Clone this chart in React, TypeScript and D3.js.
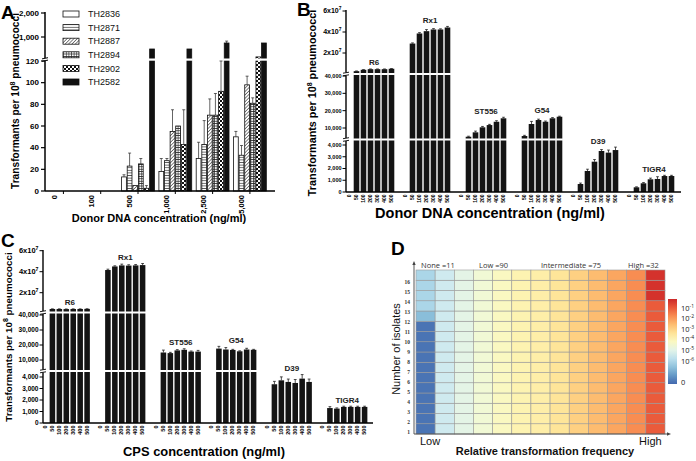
import React from 'react';
import * as d3 from 'd3';

// ---------- Panel A data ----------
const strainsA = ['TH2836', 'TH2871', 'TH2887', 'TH2894', 'TH2902', 'TH2582'];
const concA = ['0', '100', '500', '1,000', '2,500', '5,000'];
const th2836 = [0, 0, 13, 18, 30, 50];
const th2871 = [0, 0, 23, 28, 43, 33];
const th2887 = [0, 0, 5, 55, 70, 98];
const th2894 = [0, 0, 25, 60, 70, 81];
const th2902 = [0, 0, 2.5, 43, 92, 170];
const th2582 = [0, 0, 500, 500, 750, 750];
const errA2836 = [0, 0, 2, 12, 15, 5];
const errA2871 = [0, 0, 12, 2, 22, 9];
const errA2887 = [0, 0, 0, 20, 15, 8];
const errA2894 = [0, 0, 5, 0, 20, 5];
const errA2902 = [0, 0, 2.5, 32, 28, 0];
const errA2582 = [0, 0, 0, 0, 80, 0];
const yTicksALow = [0, 20, 40, 60, 80, 100, 120];
const yTicksAHigh = [1000, 2000];

// ---------- Panels B & C data ----------
const strainsBC = ['R6', 'Rx1', 'ST556', 'G54', 'D39', 'TIGR4'];
const concBC = ['0', '50', '100', '200', '300', '400', '500'];
const donorR6 = [0, 2.7e6, 4.0e6, 4.6e6, 4.6e6, 4.6e6, 5.0e6];
const donorRx1 = [0, 2.9e7, 3.86e7, 4.08e7, 4.24e7, 4.24e7, 4.43e7];
const donorST556 = [0, 4960, 7500, 10400, 11700, 13600, 15600];
const donorG54 = [0, 5370, 12300, 14600, 13600, 15600, 16500];
const donorD39 = [0, 680, 1790, 2580, 3490, 3350, 3570];
const donorTIGR4 = [0, 400, 740, 1080, 1110, 1360, 1360];
const donorErrR6 = [0, 2e5, 2e5, 2e5, 2e5, 2e5, 2e5];
const donorErrRx1 = [0, 6e5, 8e5, 1.5e6, 8e5, 6e5, 1e6];
const donorErrST556 = [0, 300, 700, 500, 400, 600, 600];
const donorErrG54 = [0, 400, 1500, 500, 400, 400, 300];
const donorErrD39 = [0, 80, 150, 180, 120, 220, 250];
const donorErrTIGR4 = [0, 40, 60, 100, 190, 60, 60];

const cpsR6 = [0, 4.5e6, 4.5e6, 4.4e6, 4.5e6, 4.5e6, 4.6e6];
const cpsRx1 = [0, 4.16e7, 4.5e7, 4.6e7, 4.58e7, 4.6e7, 4.63e7];
const cpsST556 = [0, 15000, 14600, 16400, 16800, 15600, 15600];
const cpsG54 = [0, 17600, 17000, 16700, 15800, 17000, 16800];
const cpsD39 = [0, 3370, 3710, 3570, 3480, 3860, 3570];
const cpsTIGR4 = [0, 1300, 1250, 1400, 1400, 1400, 1400];
const cpsErrR6 = [0, 1e5, 1e5, 1e5, 1e5, 1e5, 1e5];
const cpsErrRx1 = [0, 8e5, 6e5, 1.2e6, 8e5, 8e5, 1.5e6];
const cpsErrST556 = [0, 1600, 500, 500, 700, 400, 800];
const cpsErrG54 = [0, 1500, 1300, 400, 300, 800, 300];
const cpsErrD39 = [0, 250, 300, 250, 300, 350, 250];
const cpsErrTIGR4 = [0, 120, 60, 60, 60, 60, 60];

const yTicksBCBottom = [0, 1000, 2000, 3000, 4000];
const yTicksBCMid = [10000, 20000, 30000, 40000];
const yTicksBCTop = [2e7, 4e7, 6e7];

// ---------- Panel D data ----------
const heatRows = ['1', '2', '3', '4', '5', '6', '7', '8', '9', '10', '11', '12', '13', '14', '15', '16'];
const columnLevels = [0.9, 0.63, 0.58, 0.54, 0.5, 0.47, 0.45, 0.42, 0.37, 0.33, 0.29, 0.25, 0.17];
const firstColumnLevels = [0.9, 0.9, 0.9, 0.9, 0.9, 0.9, 0.9, 0.9, 0.9, 0.9, 0.9, 0.76, 0.7, 0.7, 0.7, 0.7];
const lastColumnLevels = [0.17, 0.17, 0.17, 0.17, 0.17, 0.17, 0.17, 0.17, 0.17, 0.17, 0.17, 0.17, 0.17, 0.1, 0.1, 0.1];
const groupHeaders = ['None =11', 'Low =90', 'Intermediate =75', 'High =32'];
const colorbarExps = ['-1', '-2', '-3', '-4', '-5', '-6'];

const FONT = 'Liberation Sans, Arial, sans-serif';

type Seg = { max: number; domain: [number, number]; range: [number, number] };
function brokenScale(segs: Seg[]) {
  const sc = segs.map((s) => ({ max: s.max, f: d3.scaleLinear().domain(s.domain).range(s.range) }));
  return (v: number) => {
    for (const s of sc) if (v <= s.max) return s.f(v);
    return sc[sc.length - 1].f(v);
  };
}

const fillsA = ['#fff', 'url(#pHoriz)', 'url(#pDiag)', 'url(#pGrid)', 'url(#pCheck)', '#111'];

function fmt(v: number) {
  return d3.format(',')(v);
}

function PanelA() {
  const y = brokenScale([
    { max: 125, domain: [0, 120], range: [191, 61] },
    { max: Infinity, domain: [1000, 2000], range: [37, 13] },
  ]);
  const x0 = 45;
  const step = 37.3;
  const xg = d3.scaleBand<string>().domain(concA).range([47, 47 + step * 6 - 0.12 * step]).paddingInner(0.12);
  const xs = d3.scaleBand<string>().domain(strainsA).range([0, xg.bandwidth()]).paddingInner(0.15);
  const vals = [th2836, th2871, th2887, th2894, th2902, th2582];
  const errs = [errA2836, errA2871, errA2887, errA2894, errA2902, errA2582];
  const base = y(0);
  const breakY = 59.5;
  return (
    <g>
      <text x={1} y={19} fontSize={19} fontWeight="bold" fontFamily={FONT}>A</text>
      {strainsA.map((s, si) =>
        concA.map((c, ci) => {
          const v = vals[si][ci];
          if (v <= 0) return null;
          const bx = (xg(c) as number) + (xs(s) as number);
          const w = xs.bandwidth();
          const top = y(v);
          const e = errs[si][ci];
          const cx = bx + w / 2;
          return (
            <g key={s + c}>
              {e > 0 && (
                <g stroke="#222" strokeWidth={0.7}>
                  <line x1={cx} x2={cx} y1={top} y2={y(v + e)} />
                  <line x1={cx - 1.5} x2={cx + 1.5} y1={y(v + e)} y2={y(v + e)} />
                </g>
              )}
              <rect x={bx} y={top} width={w} height={base - top} fill={fillsA[si]} stroke="#111" strokeWidth={0.8} />
              {v > 125 && <rect x={bx - 1} y={breakY - 1} width={w + 2} height={2.2} fill="#fff" />}
            </g>
          );
        })
      )}
      <line x1={x0} x2={x0} y1={base} y2={breakY + 1.5} stroke="#000" strokeWidth={1.5} />
      <line x1={x0} x2={x0} y1={breakY - 1.5} y2={12} stroke="#000" strokeWidth={1.5} />
      <line x1={x0 - 3} x2={x0 + 3} y1={breakY + 1.8} y2={breakY + 0.6} stroke="#000" strokeWidth={1} />
      <line x1={x0 - 3} x2={x0 + 3} y1={breakY - 0.6} y2={breakY - 1.8} stroke="#000" strokeWidth={1} />
      {[...yTicksALow, ...yTicksAHigh].map((t) => (
        <g key={t}>
          <line x1={x0 - 4} x2={x0} y1={y(t)} y2={y(t)} stroke="#000" strokeWidth={1.2} />
          <text x={x0 - 6} y={y(t)} dy="0.35em" textAnchor="end" fontSize={8} fontWeight="bold" fontFamily={FONT}>
            {fmt(t)}
          </text>
        </g>
      ))}
      <line x1={x0} x2={275} y1={base} y2={base} stroke="#000" strokeWidth={1.5} />
      {concA.map((c) => {
        const cx = (xg(c) as number) + xg.bandwidth() / 2;
        return (
          <g key={c}>
            <line x1={cx} x2={cx} y1={base} y2={base + 3} stroke="#000" strokeWidth={1} />
            <text
              transform={`translate(${cx - 9},${base + 4}) rotate(-90)`}
              dy="0.35em"
              textAnchor="end"
              fontSize={7.5}
              fontWeight="bold"
              fontFamily={FONT}
            >
              {c}
            </text>
          </g>
        );
      })}
      <text x={159} y={222} textAnchor="middle" fontSize={11} fontWeight="bold" fontFamily={FONT}>
        Donor DNA concentration (ng/ml)
      </text>
      <text transform="translate(19,101) rotate(-90)" textAnchor="middle" fontSize={10.2} fontWeight="bold" fontFamily={FONT}>
        Transformants per 10<tspan dy={-4} fontSize={7}>8</tspan><tspan dy={4}> pneumococci</tspan>
      </text>
      {strainsA.map((s, i) => {
        const cy = 14 + i * 13.6;
        return (
          <g key={s}>
            <rect x={63} y={cy - 3} width={16} height={6} fill={fillsA[i]} stroke="#111" strokeWidth={0.8} />
            <text x={88} y={cy} dy="0.35em" fontSize={9} fontFamily={FONT} fill="#111">
              {s}
            </text>
          </g>
        );
      })}
    </g>
  );
}

type BCProps = {
  letter: string;
  letterPos: [number, number];
  x0: number;
  xEnd: number;
  groupStart: number;
  groupStep: number;
  segs: Seg[];
  breaks: [number, number];
  topY: number;
  values: number[][];
  errors: number[][];
  xTitle: string;
  xTitlePos: [number, number];
  xTitleSize: number;
  yTitlePos: [number, number];
  yTitleSize: number;
  tickFont: number;
  expFont: number;
  xTickFont: number;
};

function PanelBC(p: BCProps) {
  const y = brokenScale(p.segs);
  const base = y(0);
  const xg = d3
    .scaleBand<string>()
    .domain(strainsBC)
    .range([p.groupStart, p.groupStart + p.groupStep * (6 - 0.125)])
    .paddingInner(0.125);
  const xs = d3.scaleBand<string>().domain(concBC).range([0, xg.bandwidth()]).paddingInner(0.2).paddingOuter(0.1);
  const [b1, b2] = p.breaks;
  return (
    <g>
      <text x={p.letterPos[0]} y={p.letterPos[1]} fontSize={19} fontWeight="bold" fontFamily={FONT}>
        {p.letter}
      </text>
      {strainsBC.map((s, si) => {
        let minTop = Infinity;
        const bars = concBC.map((c, ci) => {
          const v = p.values[si][ci];
          if (v <= 0) return null;
          const bx = (xg(s) as number) + (xs(c) as number);
          const w = xs.bandwidth();
          const top = y(v);
          const e = p.errors[si][ci];
          const et = y(v + e);
          minTop = Math.min(minTop, et);
          const cx = bx + w / 2;
          return (
            <g key={c}>
              <line x1={cx} x2={cx} y1={top} y2={et} stroke="#222" strokeWidth={0.8} />
              <line x1={cx - 1.4} x2={cx + 1.4} y1={et} y2={et} stroke="#222" strokeWidth={0.8} />
              <rect x={bx} y={top} width={w} height={base - top} fill="#141414" />
              {[b1, b2]
                .filter((b) => top < b - 1)
                .map((b) => (
                  <rect key={b} x={bx - 0.6} y={b - 1} width={w + 1.2} height={2} fill="#fff" />
                ))}
            </g>
          );
        });
        const gx0 = (xg(s) as number) + (xs(concBC[1]) as number);
        const gx1 = (xg(s) as number) + (xs(concBC[6]) as number) + xs.bandwidth();
        return (
          <g key={s}>
            {bars}
            <text x={(gx0 + gx1) / 2} y={minTop - 3.5} textAnchor="middle" fontSize={8} fontWeight="bold" fontFamily={FONT} fill="#222">
              {s}
            </text>
          </g>
        );
      })}
      <line x1={p.x0} x2={p.x0} y1={base} y2={b1 + 1.5} stroke="#000" strokeWidth={1.4} />
      <line x1={p.x0} x2={p.x0} y1={b1 - 1.5} y2={b2 + 1.5} stroke="#000" strokeWidth={1.4} />
      <line x1={p.x0} x2={p.x0} y1={b2 - 1.5} y2={p.topY} stroke="#000" strokeWidth={1.4} />
      {[b1, b2].map((b) => (
        <g key={b} stroke="#000" strokeWidth={0.9}>
          <line x1={p.x0 - 3} x2={p.x0 + 3} y1={b + 1.8} y2={b + 0.8} />
          <line x1={p.x0 - 3} x2={p.x0 + 3} y1={b - 0.8} y2={b - 1.8} />
        </g>
      ))}
      {[...yTicksBCBottom, ...yTicksBCMid].map((t) => (
        <g key={t}>
          <line x1={p.x0 - 3.5} x2={p.x0} y1={y(t)} y2={y(t)} stroke="#000" strokeWidth={1} />
          <text x={p.x0 - 4.5} y={y(t)} dy="0.35em" textAnchor="end" fontSize={p.tickFont} fontWeight="bold" fontFamily={FONT}>
            {fmt(t)}
          </text>
        </g>
      ))}
      {yTicksBCTop.map((t) => (
        <g key={t}>
          <line x1={p.x0 - 3.5} x2={p.x0} y1={y(t)} y2={y(t)} stroke="#000" strokeWidth={1} />
          <text x={p.x0 - 4.5} y={y(t)} dy="0.35em" textAnchor="end" fontSize={p.expFont} fontWeight="bold" fontFamily={FONT}>
            {t / 1e7}x10<tspan dy={-3.5} fontSize={p.expFont * 0.7}>7</tspan>
          </text>
        </g>
      ))}
      <line x1={p.x0} x2={p.xEnd} y1={base} y2={base} stroke="#000" strokeWidth={1.4} />
      {strainsBC.map((s) =>
        concBC.map((c) => {
          const cx = (xg(s) as number) + (xs(c) as number) + xs.bandwidth() / 2;
          return (
            <text
              key={s + c}
              transform={`translate(${cx - 0.5},${base + 2.5}) rotate(-90)`}
              dy="0.35em"
              textAnchor="end"
              fontSize={p.xTickFont}
              fontWeight="bold"
              fontFamily={FONT}
            >
              {c}
            </text>
          );
        })
      )}
      <text x={p.xTitlePos[0]} y={p.xTitlePos[1]} textAnchor="middle" fontSize={p.xTitleSize} fontWeight="bold" fontFamily={FONT}>
        {p.xTitle}
      </text>
      <text
        transform={`translate(${p.yTitlePos[0]},${p.yTitlePos[1]}) rotate(-90)`}
        textAnchor="middle"
        fontSize={p.yTitleSize}
        fontWeight="bold"
        fontFamily={FONT}
      >
        Transformants per 10<tspan dy={-4} fontSize={7}>8</tspan><tspan dy={4}> pneumococci</tspan>
      </text>
    </g>
  );
}

function PanelD() {
  const x = d3.scaleBand<number>().domain(d3.range(columnLevels.length)).range([416, 665]);
  const yb = d3.scaleBand<string>().domain([...heatRows].reverse()).range([270, 434]);
  const yl = d3.scalePoint<string>().domain([...heatRows].reverse()).range([282, 432]);
  const color = (t: number) => d3.interpolateRdYlBu(t);
  const level = (r: number, c: number) =>
    c === 0 ? firstColumnLevels[r] : c === columnLevels.length - 1 ? lastColumnLevels[r] : columnLevels[c];
  const cbY = d3.scaleLinear().domain([0, 1]).range([299, 384]);
  const stops = d3.range(0, 1.0001, 0.1);
  const headerX = [421, 479, 541, 628];
  return (
    <g>
      <defs>
        <linearGradient id="cbar" x1="0" x2="0" y1="0" y2="1">
          {stops.map((s) => (
            <stop key={s} offset={s} stopColor={color(0.08 + s * 0.84)} />
          ))}
        </linearGradient>
      </defs>
      <text x={391} y={255} fontSize={19} fontWeight="bold" fontFamily={FONT}>D</text>
      {heatRows.map((r, ri) =>
        columnLevels.map((_, ci) => (
          <rect
            key={r + '-' + ci}
            x={x(ci)}
            y={yb(r)}
            width={x.bandwidth()}
            height={yb.bandwidth()}
            fill={color(level(ri, ci))}
            stroke="#9a9a9a"
            strokeWidth={0.6}
          />
        ))
      )}
      {heatRows.map((r) => (
        <text key={r} x={410} y={yl(r)} dy="0.35em" textAnchor="end" fontSize={5.5} fontWeight="bold" fontFamily="Liberation Serif, serif" fill="#333">
          {r}
        </text>
      ))}
      <line x1={414} x2={414} y1={434} y2={264} stroke="#444" strokeWidth={0.9} />
      <path d="M414,261 L412.3,265 L415.7,265 Z" fill="#444" />
      <line x1={414} x2={668} y1={434} y2={434} stroke="#444" strokeWidth={0.9} />
      <path d="M671,434 L667,432.3 L667,435.7 Z" fill="#444" />
      {groupHeaders.map((h, i) => (
        <text key={h} x={headerX[i]} y={267.5} fontSize={7.5} fontFamily="Open Sans, sans-serif" fill="#333">
          {h}
        </text>
      ))}
      <text transform="translate(400,349) rotate(-90)" textAnchor="middle" fontSize={11} fontFamily={FONT} fill="#111">
        Number of isolates
      </text>
      <text x={420} y={445} fontSize={11} fontFamily={FONT} fill="#111">Low</text>
      <text x={639} y={445} fontSize={11} fontFamily={FONT} fill="#111">High</text>
      <text x={545} y={455} textAnchor="middle" fontSize={11} fontWeight="bold" fontFamily={FONT} fill="#111">
        Relative transformation frequency
      </text>
      <rect x={668} y={cbY(0)} width={9} height={cbY(1) - cbY(0)} fill="url(#cbar)" />
      {colorbarExps.map((e, i) => (
        <text key={e} x={681} y={308 + i * 10.6} dy="0.35em" fontSize={7.5} fontFamily="Open Sans, sans-serif" fill="#222">
          10<tspan dy={-3} fontSize={5}>{e}</tspan>
        </text>
      ))}
      <text x={681} y={382} dy="0.35em" fontSize={7.5} fontFamily="Open Sans, sans-serif" fill="#222">0</text>
    </g>
  );
}

export default function App() {
  return (
    <svg width={696} height={461} style={{ position: 'absolute', left: 0, top: 0, background: '#fff' }}>
      <defs>
        <pattern id="pHoriz" width={4} height={2.6} patternUnits="userSpaceOnUse">
          <rect width={4} height={2.6} fill="#fff" />
          <line x1={0} x2={4} y1={1.3} y2={1.3} stroke="#222" strokeWidth={0.7} />
        </pattern>
        <pattern id="pDiag" width={2.4} height={2.4} patternUnits="userSpaceOnUse" patternTransform="rotate(45)">
          <rect width={2.4} height={2.4} fill="#fff" />
          <line x1={0} x2={0} y1={0} y2={2.4} stroke="#222" strokeWidth={1.1} />
        </pattern>
        <pattern id="pGrid" width={2.6} height={2.4} patternUnits="userSpaceOnUse">
          <rect width={2.6} height={2.4} fill="#fff" />
          <line x1={0} x2={2.6} y1={1.2} y2={1.2} stroke="#222" strokeWidth={0.8} />
          <line x1={1.3} x2={1.3} y1={0} y2={2.4} stroke="#222" strokeWidth={0.6} />
        </pattern>
        <pattern id="pCheck" width={4} height={4} patternUnits="userSpaceOnUse">
          <rect width={4} height={4} fill="#fff" />
          <rect width={2} height={2} fill="#111" />
          <rect x={2} y={2} width={2} height={2} fill="#111" />
        </pattern>
      </defs>
      <PanelA />
      <PanelBC
        letter="B"
        letterPos={[297, 16]}
        x0={346}
        xEnd={681}
        groupStart={346}
        groupStep={56}
        segs={[
          { max: 4500, domain: [0, 4000], range: [192, 145] },
          { max: 41000, domain: [10000, 40000], range: [128, 76] },
          { max: Infinity, domain: [2e7, 6e7], range: [53, 11] },
        ]}
        breaks={[139.5, 74]}
        topY={10}
        values={[donorR6, donorRx1, donorST556, donorG54, donorD39, donorTIGR4]}
        errors={[donorErrR6, donorErrRx1, donorErrST556, donorErrG54, donorErrD39, donorErrTIGR4]}
        xTitle="Donor DNA concentration (ng/ml)"
        xTitlePos={[490, 218]}
        xTitleSize={14.5}
        yTitlePos={[316, 103]}
        yTitleSize={10.8}
        tickFont={5.5}
        expFont={7}
        xTickFont={5}
      />
      <PanelBC
        letter="C"
        letterPos={[1, 247]}
        x0={43}
        xEnd={373}
        groupStart={42}
        groupStep={55.5}
        segs={[
          { max: 4500, domain: [0, 4000], range: [423, 377] },
          { max: 41000, domain: [10000, 40000], range: [360, 315] },
          { max: Infinity, domain: [2e7, 6e7], range: [292.7, 250.7] },
        ]}
        breaks={[371, 312.5]}
        topY={250}
        values={[cpsR6, cpsRx1, cpsST556, cpsG54, cpsD39, cpsTIGR4]}
        errors={[cpsErrR6, cpsErrRx1, cpsErrST556, cpsErrG54, cpsErrD39, cpsErrTIGR4]}
        xTitle="CPS concentration (ng/ml)"
        xTitlePos={[204, 456]}
        xTitleSize={12.9}
        yTitlePos={[12, 337]}
        yTitleSize={9.8}
        tickFont={6.5}
        expFont={7.5}
        xTickFont={5.5}
      />
      <PanelD />
    </svg>
  );
}
